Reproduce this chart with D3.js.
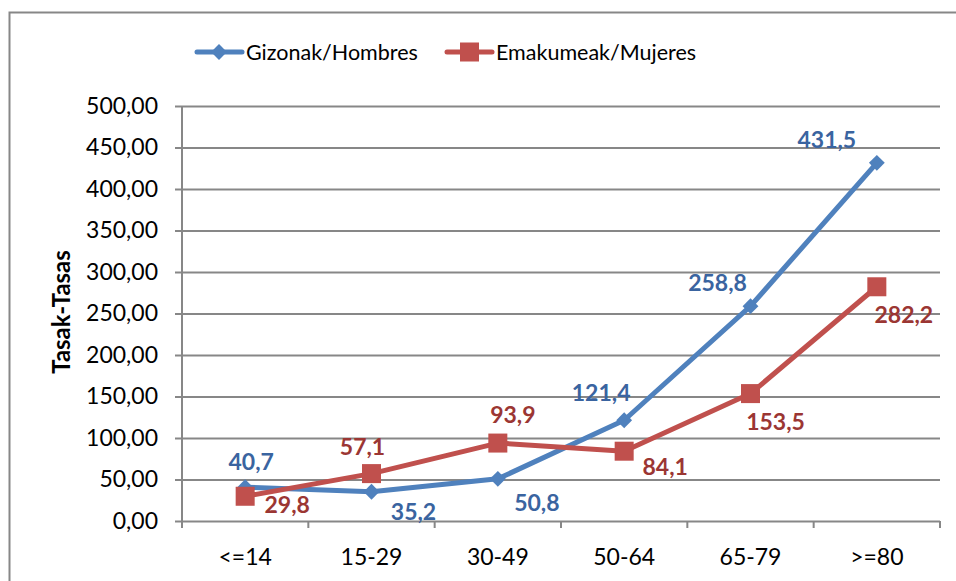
<!DOCTYPE html>
<html>
<head>
<meta charset="utf-8">
<script src="https://cdn.jsdelivr.net/npm/d3@7"></script>
<style>
  body { margin: 0; background: #fff; }
  svg { display: block; font-family: Lato, "Open Sans", sans-serif; }
</style>
</head>
<body>
<div id="wrapper"></div>
<script>
const categories = ["<=14", "15-29", "30-49", "50-64", "65-79", ">=80"]
const hombres = [40.7, 35.2, 50.8, 121.4, 258.8, 431.5]
const mujeres = [29.8, 57.1, 93.9, 84.1, 153.5, 282.2]
const yTicks = [0, 50, 100, 150, 200, 250, 300, 350, 400, 450, 500]
const seriesNames = ["Gizonak/Hombres", "Emakumeak/Mujeres"]

let dimensions = {
    width: 956,
    height: 581,
    margin: { top: 106, right: 16, bottom: 60, left: 182 },
}
dimensions.boundedWidth = dimensions.width - dimensions.margin.left - dimensions.margin.right
dimensions.boundedHeight = dimensions.height - dimensions.margin.top - dimensions.margin.bottom

const blue = "#4f81bd", red = "#c0504d"
const blueText = "#3a64a0", redText = "#9b3633"
const grey = "#878787"

const svg = d3.select("#wrapper")
    .append("svg")
    .attr("width", dimensions.width)
    .attr("height", dimensions.height)

// outer chart frame
svg.append("rect")
    .attr("x", 9.5).attr("y", 12.5)
    .attr("width", 1000).attr("height", 700)
    .attr("fill", "none").attr("stroke", grey).attr("stroke-width", 2)

const bounds = svg.append("g")
    .attr("transform", `translate(${dimensions.margin.left}, ${dimensions.margin.top})`)

const xScale = d3.scaleBand()
    .domain(categories)
    .range([0, dimensions.boundedWidth])
const yScale = d3.scaleLinear()
    .domain([0, 500])
    .range([dimensions.boundedHeight, 0])

const xPos = d => xScale(d) + xScale.bandwidth() / 2
const fmt = v => d3.format(".2f")(v).replace(".", ",")
const fmt1 = v => d3.format(".1f")(v).replace(".", ",")

// gridlines + y axis
const yAxis = d3.axisLeft(yScale)
    .tickValues(yTicks)
    .tickSize(-dimensions.boundedWidth)
    .tickSizeOuter(0)
    .tickPadding(24)
    .tickFormat(fmt)
const yAxisG = bounds.append("g").call(yAxis)
yAxisG.select(".domain").remove()
yAxisG.selectAll(".tick line")
    .attr("x1", -7)
    .attr("stroke", grey).attr("stroke-width", 2)
yAxisG.selectAll(".tick text")
    .attr("font-size", 23).attr("fill", "#000")
    .attr("font-family", "Lato, sans-serif")

bounds.append("line")
    .attr("x1", 0).attr("x2", 0)
    .attr("y1", 0).attr("y2", dimensions.boundedHeight + 7)
    .attr("stroke", grey).attr("stroke-width", 2)

// x axis
const xAxisG = bounds.append("g")
    .attr("transform", `translate(0, ${dimensions.boundedHeight})`)
xAxisG.selectAll("line.tk")
    .data(categories.slice(1).concat(["end"]))
    .enter().append("line")
    .attr("x1", (d, i) => xScale.step() * (i + 1))
    .attr("x2", (d, i) => xScale.step() * (i + 1))
    .attr("y1", 0).attr("y2", 7)
    .attr("stroke", grey).attr("stroke-width", 2)
xAxisG.selectAll("text")
    .data(categories)
    .enter().append("text")
    .attr("x", xPos)
    .attr("y", 44)
    .attr("text-anchor", "middle")
    .attr("font-size", 23)
    .text(d => d)

// y title
svg.append("text")
    .attr("transform", "translate(62, 312) rotate(-90)")
    .attr("text-anchor", "middle")
    .attr("dy", "0.35em")
    .attr("font-size", 24).attr("font-weight", "bold")
    .text("Tasak-Tasas")

const line = d3.line()
    .x((d, i) => xPos(categories[i]))
    .y(d => yScale(d))

const diamond = d3.symbol().type(d3.symbolDiamond2).size(160)

// hombres
bounds.append("path")
    .datum(hombres)
    .attr("fill", "none").attr("stroke", blue).attr("stroke-width", 5)
    .attr("stroke-linejoin", "round")
    .attr("d", line)

// mujeres
bounds.append("path")
    .datum(mujeres)
    .attr("fill", "none").attr("stroke", red).attr("stroke-width", 5)
    .attr("stroke-linejoin", "round")
    .attr("d", line)

bounds.selectAll("path.dia")
    .data(hombres)
    .enter().append("path")
    .attr("class", "dia")
    .attr("transform", (d, i) => `translate(${xPos(categories[i])}, ${yScale(d)})`)
    .attr("d", diamond)
    .attr("fill", blue)

bounds.selectAll("rect.sq")
    .data(mujeres)
    .enter().append("rect")
    .attr("class", "sq")
    .attr("x", (d, i) => xPos(categories[i]) - 9.5)
    .attr("y", d => yScale(d) - 9.5)
    .attr("width", 19).attr("height", 19)
    .attr("fill", red)

// data labels (offsets)
const hOff = [[6, -25], [42, 20], [39, 24], [-23, -27], [-33, -23], [-50, -23]]
const mOff = [[42, 9], [-9, -27], [15, -28], [41, 16], [25, 28], [27, 28]]

bounds.selectAll("text.hl")
    .data(hombres)
    .enter().append("text")
    .attr("x", (d, i) => xPos(categories[i]) + hOff[i][0])
    .attr("y", (d, i) => yScale(d) + hOff[i][1])
    .attr("dy", "0.35em")
    .attr("text-anchor", "middle")
    .attr("font-size", 23).attr("font-weight", "bold")
    .attr("fill", blueText)
    .text(fmt1)

bounds.selectAll("text.ml")
    .data(mujeres)
    .enter().append("text")
    .attr("x", (d, i) => xPos(categories[i]) + mOff[i][0])
    .attr("y", (d, i) => yScale(d) + mOff[i][1])
    .attr("dy", "0.35em")
    .attr("text-anchor", "middle")
    .attr("font-size", 23).attr("font-weight", "bold")
    .attr("fill", redText)
    .text(fmt1)

// legend
const legend = svg.append("g").attr("transform", "translate(0, 52)")
const legendX = [197, 447]
seriesNames.forEach((name, i) => {
    const g = legend.append("g").attr("transform", `translate(${legendX[i]}, 0)`)
    g.append("line")
        .attr("x1", 0).attr("x2", 45)
        .attr("stroke", i ? red : blue).attr("stroke-width", 5)
        .attr("stroke-linecap", "round")
    if (i) {
        g.append("rect").attr("x", 13).attr("y", -9.5).attr("width", 19).attr("height", 19).attr("fill", red)
    } else {
        g.append("path").attr("transform", "translate(22, 0)").attr("d", diamond).attr("fill", blue)
    }
    g.append("text")
        .attr("x", 49).attr("dy", "0.35em")
        .attr("font-size", 21.5)
        .text(name)
})
</script>
</body>
</html>
